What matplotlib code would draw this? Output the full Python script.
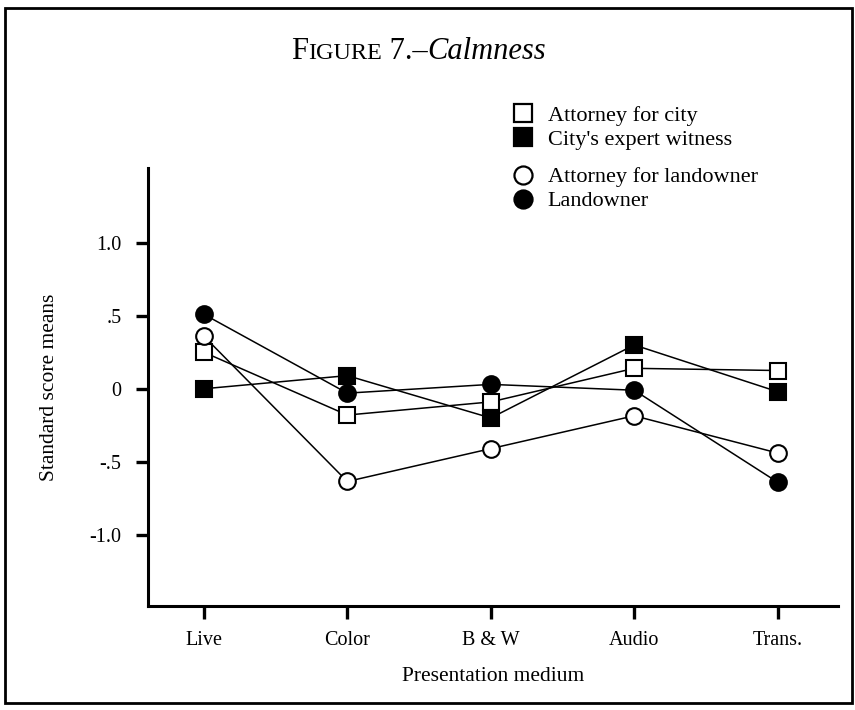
import matplotlib
matplotlib.use("Agg")
import matplotlib.pyplot as plt
from matplotlib.lines import Line2D
from matplotlib.patches import Rectangle
from matplotlib.offsetbox import TextArea, HPacker, AnchoredOffsetbox

plt.rcParams['font.family'] = ['Liberation Serif', 'DejaVu Serif']

media = ["Live", "Color", "B & W", "Audio", "Trans."]
yticks = [-1.0, -0.5, 0.0, 0.5, 1.0]
ytick_labels = ["-1.0", "-.5", "0", ".5", "1.0"]

atty_city = [0.25, -0.18, -0.09, 0.14, 0.125]
city_expert = [0.0, 0.09, -0.20, 0.30, -0.02]
atty_land = [0.36, -0.635, -0.41, -0.185, -0.44]
landowner = [0.51, -0.03, 0.03, -0.01, -0.64]

series = [
    ("Attorney for city", atty_city, "s", "white"),
    ("City's expert witness", city_expert, "s", "black"),
    ("Attorney for landowner", atty_land, "o", "white"),
    ("Landowner", landowner, "o", "black"),
]

fig = plt.figure(figsize=(8.55, 7.10), dpi=100)
ax = fig.add_axes([0.173, 0.146, 0.807, 0.617])

x = list(range(len(media)))
handles = []
for name, vals, m, fc in series:
    ax.plot(x, vals, color="black", lw=1.1, zorder=2)
    ms = 11 if m == "s" else 12
    ax.plot(x, vals, ls="none", marker=m, ms=ms, mfc=fc, mec="black",
            mew=1.5, zorder=3)
    handles.append(Line2D([], [], ls="none", marker=m, ms=13, mfc=fc,
                          mec="black", mew=1.6, label=name))

ax.set_xlim(-0.39, 4.42)
ax.set_ylim(-1.49, 1.51)
ax.set_xticks(x)
ax.set_xticklabels(media)
ax.set_yticks(yticks)
ax.set_yticklabels(ytick_labels)
for s in ["top", "right"]:
    ax.spines[s].set_visible(False)
for s in ["left", "bottom"]:
    ax.spines[s].set_linewidth(2.2)
ax.tick_params(axis="both", direction="out", length=9, width=2.4,
               labelsize=14.5)
ax.tick_params(axis="x", pad=9)
ax.tick_params(axis="y", pad=10)
ax.set_xlabel("Presentation medium", fontsize=15.5, labelpad=12)
ax.set_ylabel("Standard score means", fontsize=15.5, labelpad=22)

leg_kw = dict(loc="upper left", frameon=False, fontsize=16,
              handlelength=1.0, handletextpad=0.6, labelspacing=0.15,
              borderaxespad=0, borderpad=0)
fig.legend(handles=handles[:2], bbox_to_anchor=(0.599, 0.852), **leg_kw)
fig.legend(handles=handles[2:], bbox_to_anchor=(0.599, 0.765), **leg_kw)

# title with small caps
parts = [
    TextArea("F", textprops=dict(fontsize=22)),
    TextArea("IGURE", textprops=dict(fontsize=17.5)),
    TextArea(" 7.\u2013", textprops=dict(fontsize=22)),
    TextArea("Calmness", textprops=dict(fontsize=22, style="italic")),
]
title = HPacker(children=parts, align="baseline", pad=0, sep=0)
fig.add_artist(AnchoredOffsetbox(loc="center", child=title, frameon=False,
                                 bbox_to_anchor=(0.4895, 0.927),
                                 bbox_transform=fig.transFigure, pad=0,
                                 borderpad=0))

fig.add_artist(Rectangle((0.006, 0.01), 0.99, 0.979, transform=fig.transFigure,
                         fill=False, lw=2, ec="black"))

fig.savefig("out.png", dpi=100)
